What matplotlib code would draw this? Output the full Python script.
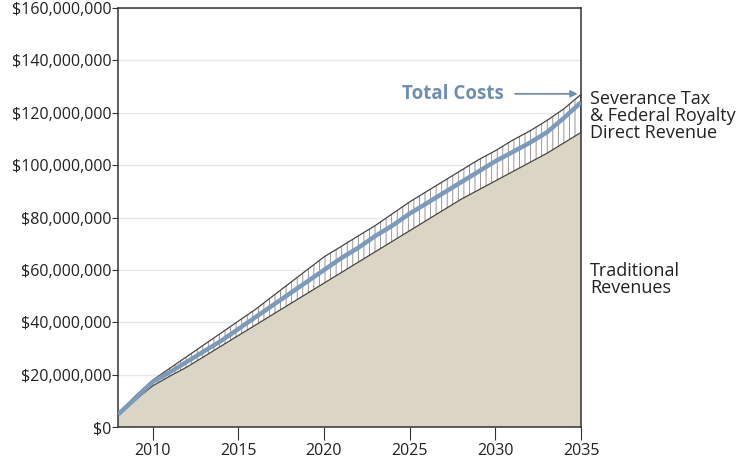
import numpy as np
import matplotlib
matplotlib.use('Agg')
import matplotlib.pyplot as plt
from matplotlib.ticker import FuncFormatter

# 数据（单位：百万美元）
years = list(range(2008, 2036))
traditional = [5.5, 10.5, 15.8, 19.5, 23, 27, 31, 35, 39, 43, 47, 51, 55, 59,
               63, 67, 71, 75, 79, 83, 87, 90.5, 94, 97.5, 101, 104.5, 108.5, 112.5]
with_severance = [5.5, 12, 18, 22.5, 27, 31.5, 36, 40.5, 45, 50, 55, 60, 65, 69,
                  73, 77, 81.5, 86, 90, 94, 98, 102, 105.5, 109.5, 113, 117, 121.5, 127]
total_costs = [5, 11, 17.3, 21, 25, 29, 33, 37.5, 42, 46.5, 51, 55.5, 60, 64.5,
               68.5, 73, 77, 81.5, 85.5, 89.5, 93.5, 97.5, 101.5, 105, 108.5, 112.5, 118, 124]
y_ticks = [0, 20, 40, 60, 80, 100, 120, 140, 160]
x_ticks = [2010, 2015, 2020, 2025, 2030, 2035]

plt.rcParams['font.family'] = ['Open Sans', 'DejaVu Sans']
plt.rcParams['hatch.linewidth'] = 0.6

x = np.array(years)
trad = np.array(traditional) * 1e6
sev = np.array(with_severance) * 1e6
cost = np.array(total_costs) * 1e6

fig = plt.figure(figsize=(7.44, 4.61), dpi=100)
ax = fig.add_axes([0.159, 0.073, 0.622, 0.910])

# 传统收入（米色填充）
ax.fill_between(x, 0, trad, facecolor='#dad5c5', edgecolor='none', zorder=2)
# 开采税与联邦特许权收入（竖线阴影）
ax.fill_between(x, trad, sev, facecolor='white', edgecolor='#8a8580',
                hatch='|||', linewidth=0, zorder=2)
ax.plot(x, trad, color='#4a4540', lw=0.9, zorder=3)
ax.plot(x, sev, color='#4a4540', lw=0.9, zorder=3)
# 总成本
ax.plot(x, cost, color='#7c9bbb', lw=3.2, zorder=4, solid_capstyle='butt')

ax.set_xlim(2008, 2035)
ax.set_ylim(0, 160e6)
ax.set_yticks([v * 1e6 for v in y_ticks])
ax.set_xticks(x_ticks)
ax.yaxis.set_major_formatter(FuncFormatter(lambda v, p: f'${v:,.0f}'))
ax.grid(axis='y', color='#e8e8e8', lw=1, zorder=0)
ax.set_axisbelow(True)
for s in ax.spines.values():
    s.set_color('#333333')
    s.set_linewidth(1.1)
ax.tick_params(axis='both', colors='#333333', labelsize=11.5, length=5, width=0.8)
ax.tick_params(axis='y', length=4, pad=1)
ax.tick_params(axis='x', length=9, pad=2)
for lbl in ax.get_xticklabels() + ax.get_yticklabels():
    lbl.set_color('#222222')

ax.annotate('Total Costs', xy=(2034.8, 127.2e6), xytext=(2030.5, 127.2e6),
            ha='right', va='center', fontsize=13.5, fontweight='bold', color='#6f8fae',
            arrowprops=dict(arrowstyle='-|>', color='#6f8fae', lw=1.3,
                            shrinkA=6, shrinkB=0, mutation_scale=10))

ax.text(1.02, 0.742, 'Severance Tax\n& Federal Royalty\nDirect Revenue',
        transform=ax.transAxes, ha='left', va='center', fontsize=13,
        linespacing=0.95, color='#222222')
ax.text(1.02, 0.352, 'Traditional\nRevenues', transform=ax.transAxes,
        ha='left', va='center', fontsize=13, linespacing=0.95, color='#222222')

fig.savefig('out.png', dpi=100)
